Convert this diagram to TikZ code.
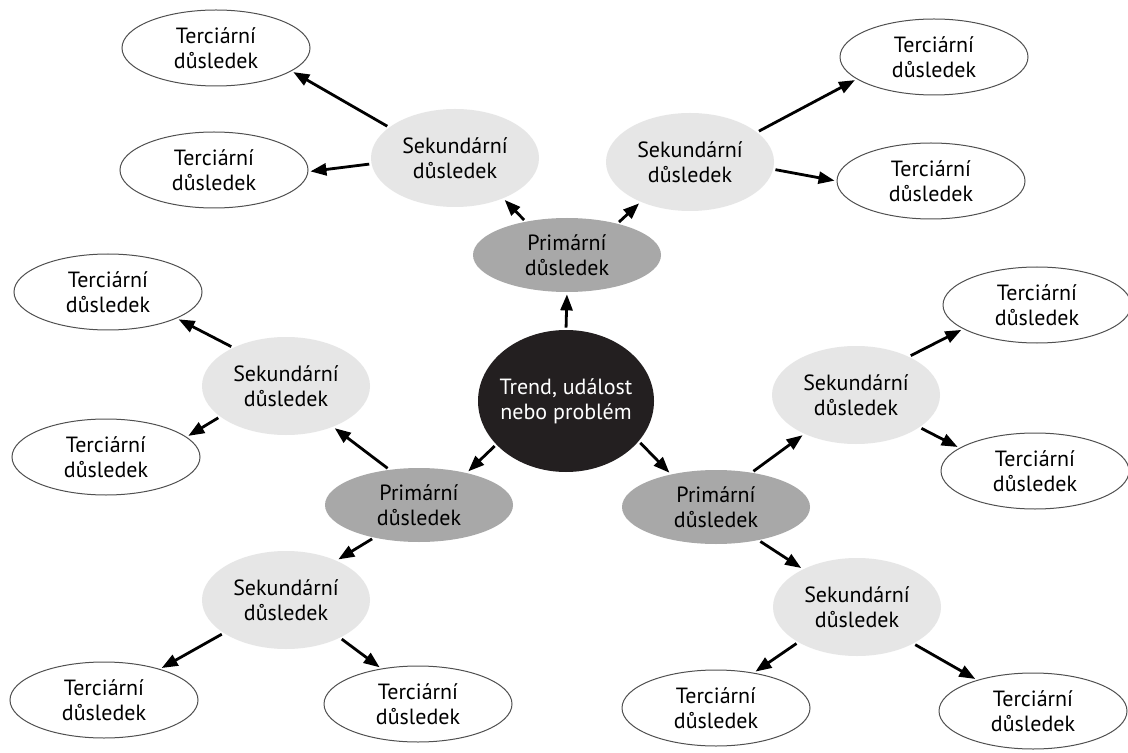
\documentclass[tikz,border=0pt]{standalone}
\usepackage{fontspec}
\setmainfont{PT Sans}
\usetikzlibrary{shapes.geometric,arrows.meta}
\definecolor{coreC}{RGB}{35,31,32}
\definecolor{primC}{RGB}{168,168,168}
\definecolor{secC}{RGB}{230,230,230}
\definecolor{edgeC}{RGB}{80,80,80}
\begin{document}
\begin{tikzpicture}[x=0.5pt,y=-0.5pt,
  base/.style={ellipse,inner sep=0pt,align=center,font=\fontsize{11}{12.5}\selectfont},
  core/.style={base,fill=coreC,text=white,inner xsep=-10pt,minimum width=88pt,minimum height=71pt},
  prim/.style={base,fill=primC,minimum width=94pt,minimum height=37pt},
  sec/.style={base,fill=secC,minimum width=84pt,minimum height=49pt},
  tert/.style={base,draw=edgeC,line width=0.5pt,fill=white,minimum width=94pt,minimum height=38pt},
  arr/.style={-{Triangle[length=8pt,width=6pt]},line width=1.4pt,shorten <=1pt,shorten >=1pt}]
\useasboundingbox (0,0) rectangle (1128,753);
\fill[white] (0,0) rectangle (1128,753);

% centre
\node[core] (C) at (566,401) {Trend, událost\\nebo problém};
% primary
\node[prim] (P1) at (567,255) {Primární\\důsledek};
\node[prim] (P2) at (419,505) {Primární\\důsledek};
\node[prim] (P3) at (716,507) {Primární\\důsledek};
% secondary
\node[sec] (S1) at (455,158) {Sekundární\\důsledek};
\node[sec] (S2) at (690,162) {Sekundární\\důsledek};
\node[sec] (S3) at (286,386) {Sekundární\\důsledek};
\node[sec] (S4) at (286,600) {Sekundární\\důsledek};
\node[sec] (S5) at (856,395) {Sekundární\\důsledek};
\node[sec] (S6) at (857,607) {Sekundární\\důsledek};
% tertiary
\node[tert] (T1) at (216,48) {Terciární\\důsledek};
\node[tert] (T2) at (214,170) {Terciární\\důsledek};
\node[tert] (T3) at (934,57) {Terciární\\důsledek};
\node[tert] (T4) at (931,181) {Terciární\\důsledek};
\node[tert] (T5) at (108,292) {Terciární\\důsledek};
\node[tert] (T6) at (106,457) {Terciární\\důsledek};
\node[tert] (T7) at (1037,305) {Terciární\\důsledek};
\node[tert] (T8) at (1035,471) {Terciární\\důsledek};
\node[tert] (T9) at (104,700) {Terciární\\důsledek};
\node[tert] (T10) at (418,704) {Terciární\\důsledek};
\node[tert] (T11) at (716,708) {Terciární\\důsledek};
\node[tert] (T12) at (1033,711) {Terciární\\důsledek};

% connectors
\draw[arr] (C.north) -- (P1.south);
\draw[arr] (C.212) -- (P2.34);
\draw[arr] (C.-29) -- (P3.144);
\draw[arr] (P1.141) -- (S1.-40);
\draw[arr] (P1.32) -- (S2.219);
\draw[arr] (S1.155) -- (T1.-17);
\draw[arr] (S1.184) -- (T2.-1);
\draw[arr] (S2.24) -- (T3.196);
\draw[arr] (S2.-5) -- (T4.180);
\draw[arr] (P2.130) -- (S3.-41);
\draw[arr] (P2.216) -- (S4.38);
\draw[arr] (S3.144) -- (T5.-21);
\draw[arr] (S3.205) -- (T6.14);
\draw[arr] (S4.208) -- (T9.29);
\draw[arr] (S4.-35) -- (T10.136);
\draw[arr] (P3.44) -- (S5.217);
\draw[arr] (P3.-38) -- (S6.145);
\draw[arr] (S5.36) -- (T7.198);
\draw[arr] (S5.-27) -- (T8.163);
\draw[arr] (S6.211) -- (T11.43);
\draw[arr] (S6.-33) -- (T12.151);
\end{tikzpicture}
\end{document}
